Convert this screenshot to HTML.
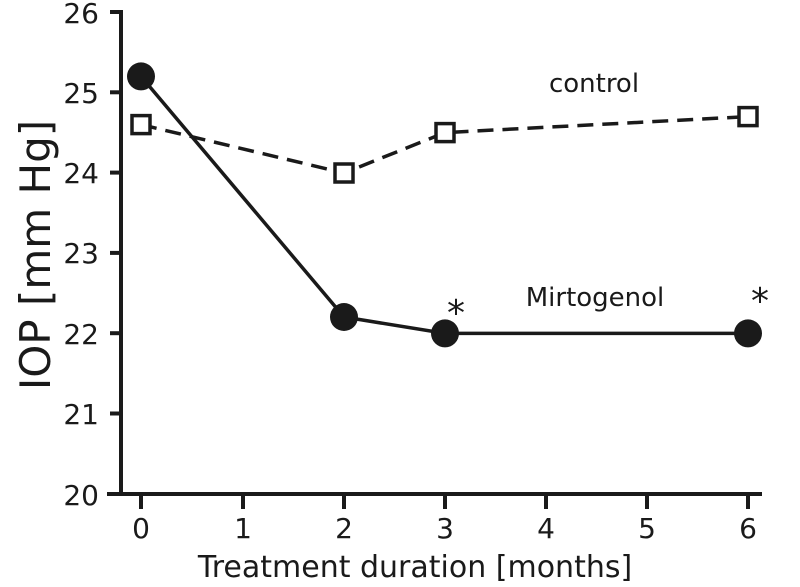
<!DOCTYPE html>
<html><head><style>body{margin:0;background:#fff}svg{display:block}</style></head><body>
<svg width="800" height="587" xmlns="http://www.w3.org/2000/svg" font-family="DejaVu Sans, Verdana, sans-serif" fill="#1a1a1a">
<g stroke="#1a1a1a" stroke-width="4" fill="none">
<line x1="121" y1="10" x2="121" y2="496"/>
<line x1="107" y1="494" x2="762" y2="494"/>
<line x1="110" y1="12" x2="121" y2="12"/>
<line x1="110" y1="92.3" x2="121" y2="92.3"/>
<line x1="110" y1="172.6" x2="121" y2="172.6"/>
<line x1="110" y1="252.9" x2="121" y2="252.9"/>
<line x1="110" y1="333.2" x2="121" y2="333.2"/>
<line x1="110" y1="413.5" x2="121" y2="413.5"/>
<line x1="141" y1="494" x2="141" y2="509"/>
<line x1="243" y1="494" x2="243" y2="509"/>
<line x1="344" y1="494" x2="344" y2="509"/>
<line x1="445" y1="494" x2="445" y2="509"/>
<line x1="546" y1="494" x2="546" y2="509"/>
<line x1="647" y1="494" x2="647" y2="509"/>
<line x1="748" y1="494" x2="748" y2="509"/>
<polyline points="141,124.6 344,173 445,132.6 748,116.6" stroke-dasharray="16,9" stroke-width="3.5"/>
<polyline points="141,76.4 344,317 445,333.4 748,333.4" stroke-width="3.5"/>
</g>
<g fill="#fff" stroke="#1a1a1a" stroke-width="3.5">
<rect x="132" y="115.6" width="18" height="18"/>
<rect x="335" y="164" width="18" height="18"/>
<rect x="436" y="123.6" width="18" height="18"/>
<rect x="739" y="107.6" width="18" height="18"/>
</g>
<g fill="#1a1a1a">
<circle cx="141" cy="76.4" r="14"/>
<circle cx="344" cy="317" r="14"/>
<circle cx="445" cy="333.4" r="14"/>
<circle cx="748" cy="333.4" r="14"/>
</g>
<g font-size="28" text-anchor="end">
<text x="99" y="23">26</text><text x="99" y="103">25</text><text x="99" y="183">24</text>
<text x="99" y="263">23</text><text x="99" y="344">22</text><text x="99" y="424">21</text><text x="99" y="505">20</text>
</g>
<g font-size="28" text-anchor="middle">
<text x="141" y="538">0</text><text x="243" y="538">1</text><text x="344" y="538">2</text><text x="445" y="538">3</text>
<text x="546" y="538">4</text><text x="647" y="538">5</text><text x="748" y="538">6</text>
<text x="415" y="577" font-size="30">Treatment duration [months]</text>
<text x="594" y="92" font-size="26">control</text>
<text x="595" y="306" font-size="26">Mirtogenol</text>
<text x="456" y="325" font-size="36">*</text>
<text x="760" y="313" font-size="36">*</text>
<text transform="translate(50,255) rotate(-90)" font-size="42">IOP [mm Hg]</text>
</g>
</svg>
</body></html>
